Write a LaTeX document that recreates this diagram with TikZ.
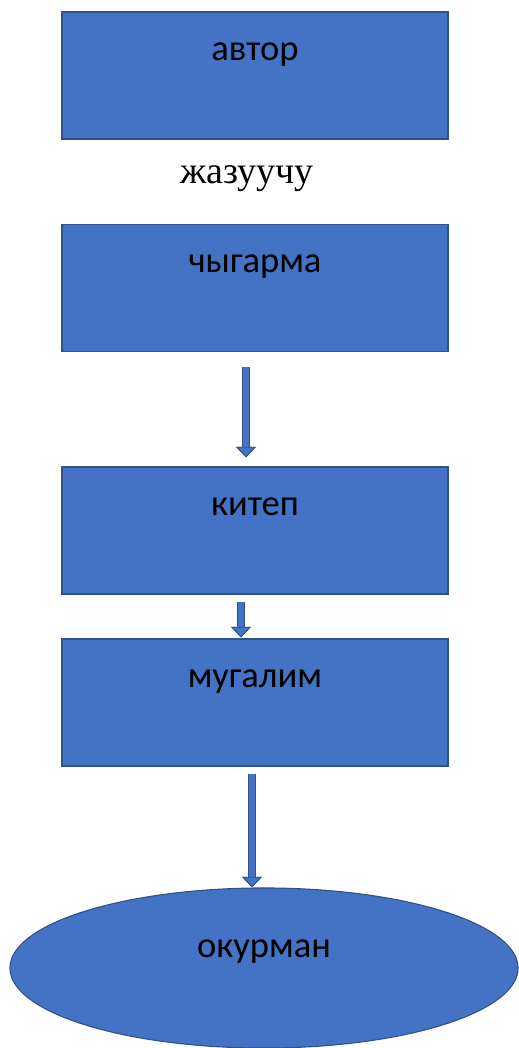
\documentclass[tikz,border=0pt]{standalone}
\usepackage{fontspec}
\setmainfont{Liberation Serif}
\newfontfamily\boxfont{Carlito}
\usetikzlibrary{arrows.meta,shapes.geometric}
\definecolor{boxblue}{HTML}{4472C4}
\definecolor{edgeblue}{HTML}{2F528F}

\begin{document}
\begin{tikzpicture}[x=0.025cm,y=-0.025cm,
	blockbox/.style={draw=edgeblue, fill=boxblue, line width=0.8pt, rectangle,
		minimum width=9.65cm, inner sep=0pt, text height=1.2cm, text depth=1.975cm,
		font=\boxfont\fontsize{26}{31}\selectfont},
	readerbox/.style={draw=edgeblue, fill=boxblue, line width=0.8pt, ellipse,
		minimum width=12.7cm, minimum height=4cm, inner sep=0pt,
		text height=0.5cm, text depth=1.05cm, font=\boxfont\fontsize{26}{31}\selectfont},
	flow/.style={draw=boxblue, line width=4.5pt,
		preaction={draw=edgeblue, line width=6.2pt},
		-{Triangle[width=14pt,length=7.5pt,line width=0.6pt,fill=boxblue,color=edgeblue]}}
]

\useasboundingbox (0,0) rectangle (519,1048);

\node[blockbox] (avtor) at (255,75.5) {автор};
\node[anchor=base, font=\fontsize{27}{32}\selectfont] (jazuuchu) at (247,183) {жазуучу};
\node[blockbox] (chygarma) at (255,288) {чыгарма};
\node[blockbox] (kitep) at (255,530.5) {китеп};
\node[blockbox] (mugalim) at (255,702.5) {мугалим};
\node[readerbox] (okurman) at (264,968) {окурман};

% arrow stems
\coordinate (s1) at ([xshift=-0.225cm]chygarma.south);
\coordinate (s2) at ([xshift=-0.35cm]kitep.south);
\coordinate (s3) at ([xshift=-0.075cm]mugalim.south);

\draw[flow, shorten <=0.375cm, shorten >=0.225cm] (s1) -- (s1 |- kitep.north);
\draw[flow, shorten <=0.175cm, shorten >=0.025cm] (s2) -- (s2 |- mugalim.north);
\draw[flow, shorten <=0.175cm] (s3) -- (s3 |- okurman.north);

\end{tikzpicture}
\end{document}
